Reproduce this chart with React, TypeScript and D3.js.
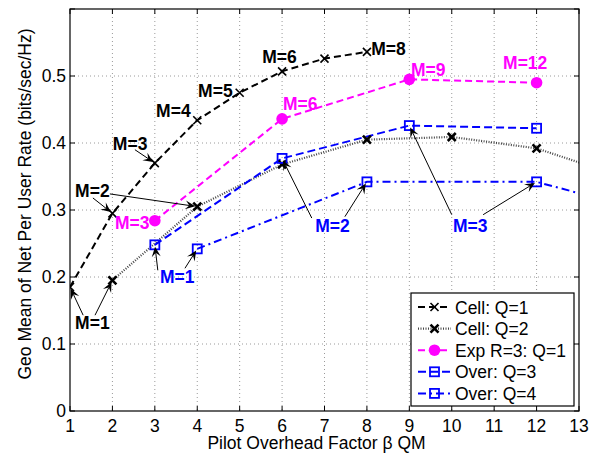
import React, { useEffect, useRef } from 'react';
import * as d3 from 'd3';

// Pilot overhead vs. geo-mean rate, MATLAB-style line plot with M= annotations.

const WIDTH = 601;
const HEIGHT = 458;
const LEFT = 70;
const RIGHT = 579;
const TOP = 9;
const BOTTOM = 411;
const FONT = '"Liberation Sans", Arial, Helvetica, sans-serif';

const xTicks = [1, 2, 3, 4, 5, 6, 7, 8, 9, 10, 11, 12, 13];
const yTicks = [0, 0.1, 0.2, 0.3, 0.4, 0.5, 0.6];
const yTickLabels = ['0', '0.1', '0.2', '0.3', '0.4', '0.5', ''];

const cellQ1X = [1, 2, 3, 4, 5, 6, 7, 8];
const cellQ1Y = [0.185, 0.295, 0.37, 0.434, 0.475, 0.507, 0.526, 0.536];
const cellQ2X = [2, 4, 6, 8, 10, 12, 14];
const cellQ2Y = [0.195, 0.305, 0.368, 0.405, 0.409, 0.392, 0.35];
const expX = [3, 6, 9, 12];
const expY = [0.284, 0.436, 0.495, 0.49];
const overQ3X = [3, 6, 9, 12];
const overQ3Y = [0.248, 0.377, 0.426, 0.422];
const overQ4X = [4, 8, 12, 16];
const overQ4Y = [0.242, 0.342, 0.342, 0.274];

const seriesNames = ['Cell: Q=1', 'Cell: Q=2', 'Exp R=3: Q=1', 'Over: Q=3', 'Over: Q=4'];

// annotation text: label, colour group, x and baseline y in data units
const labelTexts = ['M=1', 'M=2', 'M=3', 'M=4', 'M=5', 'M=6', 'M=8', 'M=3', 'M=6', 'M=9', 'M=12', 'M=1', 'M=2', 'M=3'];
const labelGroups = ['k', 'k', 'k', 'k', 'k', 'k', 'k', 'm', 'm', 'm', 'm', 'b', 'b', 'b'];
const labelX = [1.12, 1.12, 2.01, 3.03, 4.02, 5.53, 8.1, 2.06, 6.02, 9.04, 11.21, 3.12, 6.78, 10.03];
const labelY = [0.122, 0.319, 0.39, 0.439, 0.469, 0.519, 0.531, 0.272, 0.449, 0.5, 0.51, 0.191, 0.267, 0.267];

// arrows: tail in data units, head at a series point
const arrowTailX = [1.31, 1.59, 1.54, 1.94, 2.53, 3.07, 3.71, 6.7, 7.48, 10.0, 10.74];
const arrowTailY = [0.143, 0.143, 0.318, 0.324, 0.39, 0.21, 0.213, 0.288, 0.29, 0.293, 0.293];
const arrowSeries = [0, 1, 0, 1, 0, 3, 4, 3, 4, 3, 4];
const arrowPoint = [0, 0, 1, 1, 2, 0, 0, 1, 1, 2, 2];

const groupColor = { k: '#000000', m: '#ff00ff', b: '#0000ff' };

const App = () => {
  const svgRef = useRef<SVGSVGElement>(null);

  useEffect(() => {
    const svg = d3.select(svgRef.current).attr('width', WIDTH).attr('height', HEIGHT);
    svg.selectAll('*').remove();
    svg.append('rect').attr('width', WIDTH).attr('height', HEIGHT).attr('fill', 'white');

    const x = d3.scaleLinear().domain([1, 13]).range([LEFT, RIGHT]);
    const y = d3.scaleLinear().domain([0, 0.6]).range([BOTTOM, TOP]);

    const series = [
      { xs: cellQ1X, ys: cellQ1Y, color: '#000', mc: '#000', dash: '7,4', width: 2, marker: 'x', mw: 1.6 },
      { xs: cellQ2X, ys: cellQ2Y, color: '#444', mc: '#000', dash: '1,1.5', width: 2.2, marker: 'x', mw: 2.6 },
      { xs: expX, ys: expY, color: '#ff00ff', mc: '#ff00ff', dash: '7,4', width: 2, marker: 'o', mw: 1 },
      { xs: overQ3X, ys: overQ3Y, color: '#0000ff', mc: '#0000ff', dash: '8,4', width: 2, marker: 's', mw: 1.8 },
      { xs: overQ4X, ys: overQ4Y, color: '#0000ff', mc: '#0000ff', dash: '8,4,2,4', width: 2, marker: 's', mw: 1.8 },
    ];

    svg
      .append('defs')
      .append('clipPath')
      .attr('id', 'plot-clip')
      .append('rect')
      .attr('x', LEFT)
      .attr('y', TOP)
      .attr('width', RIGHT - LEFT)
      .attr('height', BOTTOM - TOP);

    // grid
    const grid = svg.append('g').attr('stroke', '#9a9a9a').attr('stroke-width', 1).attr('stroke-dasharray', '1,3');
    xTicks.slice(1, -1).forEach((t) => {
      grid.append('line').attr('x1', x(t)).attr('x2', x(t)).attr('y1', TOP).attr('y2', BOTTOM);
    });
    yTicks.slice(1, -1).forEach((t) => {
      grid.append('line').attr('x1', LEFT).attr('x2', RIGHT).attr('y1', y(t)).attr('y2', y(t));
    });

    const drawMarker = (g, kind, cx, cy, color, mw) => {
      if (kind === 'x') {
        g.append('path')
          .attr('d', `M${cx - 4},${cy - 4}L${cx + 4},${cy + 4}M${cx - 4},${cy + 4}L${cx + 4},${cy - 4}`)
          .attr('stroke', color)
          .attr('stroke-width', mw)
          .attr('fill', 'none');
      } else if (kind === 'o') {
        g.append('circle').attr('cx', cx).attr('cy', cy).attr('r', 5.8).attr('fill', color);
      } else {
        g.append('rect')
          .attr('x', cx - 4.5)
          .attr('y', cy - 4.5)
          .attr('width', 9)
          .attr('height', 9)
          .attr('fill', 'none')
          .attr('stroke', color)
          .attr('stroke-width', mw);
      }
    };

    const plot = svg.append('g').attr('clip-path', 'url(#plot-clip)');
    const line = d3.line<[number, number]>();
    series.forEach((s) => {
      const pts = s.xs.map((v, i) => [x(v), y(s.ys[i])] as [number, number]);
      plot
        .append('path')
        .attr('d', line(pts))
        .attr('fill', 'none')
        .attr('stroke', s.color)
        .attr('stroke-width', s.width)
        .attr('stroke-dasharray', s.dash);
    });
    series.forEach((s) => {
      s.xs.forEach((v, i) => drawMarker(plot, s.marker, x(v), y(s.ys[i]), s.mc, s.mw));
    });

    // arrows
    const arrows = svg.append('g');
    arrowTailX.forEach((tx, i) => {
      const s = series[arrowSeries[i]];
      const x0 = x(tx);
      const y0 = y(arrowTailY[i]);
      const px = x(s.xs[arrowPoint[i]]);
      const py = y(s.ys[arrowPoint[i]]);
      const dx = px - x0;
      const dy = py - y0;
      const len = Math.hypot(dx, dy);
      const ux = dx / len;
      const uy = dy / len;
      const hx = px - ux * 2;
      const hy = py - uy * 2;
      const nx = -uy;
      const ny = ux;
      const L = 10;
      const W = 4.5;
      arrows
        .append('line')
        .attr('x1', x0)
        .attr('y1', y0)
        .attr('x2', hx - ux * 6)
        .attr('y2', hy - uy * 6)
        .attr('stroke', '#000')
        .attr('stroke-width', 1);
      arrows
        .append('path')
        .attr(
          'd',
          `M${hx},${hy}L${hx - ux * L + nx * W},${hy - uy * L + ny * W}L${hx - ux * L * 0.6},${hy - uy * L * 0.6}L${hx - ux * L - nx * W},${hy - uy * L - ny * W}Z`,
        )
        .attr('fill', '#000');
    });

    // annotation labels
    svg
      .append('g')
      .selectAll('text')
      .data(labelTexts)
      .enter()
      .append('text')
      .attr('x', (_, i) => x(labelX[i]))
      .attr('y', (_, i) => y(labelY[i]))
      .attr('font-family', FONT)
      .attr('font-weight', 'bold')
      .attr('font-size', '17.5px')
      .attr('fill', (_, i) => groupColor[labelGroups[i]])
      .text((d) => d);

    // frame and ticks
    svg
      .append('rect')
      .attr('x', LEFT)
      .attr('y', TOP)
      .attr('width', RIGHT - LEFT)
      .attr('height', BOTTOM - TOP)
      .attr('fill', 'none')
      .attr('stroke', '#000')
      .attr('stroke-width', 1.2);
    const ticks = svg.append('g').attr('stroke', '#000').attr('stroke-width', 1);
    xTicks.forEach((t) => {
      ticks.append('line').attr('x1', x(t)).attr('x2', x(t)).attr('y1', BOTTOM).attr('y2', BOTTOM - 5);
      ticks.append('line').attr('x1', x(t)).attr('x2', x(t)).attr('y1', TOP).attr('y2', TOP + 5);
    });
    yTicks.forEach((t) => {
      ticks.append('line').attr('x1', LEFT).attr('x2', LEFT + 5).attr('y1', y(t)).attr('y2', y(t));
      ticks.append('line').attr('x1', RIGHT).attr('x2', RIGHT - 5).attr('y1', y(t)).attr('y2', y(t));
    });

    xTicks.forEach((t) => {
      svg
        .append('text')
        .attr('x', x(t))
        .attr('y', BOTTOM + 21)
        .attr('text-anchor', 'middle')
        .attr('font-family', FONT)
        .attr('font-size', '17.5px')
        .text(String(t));
    });
    yTicks.forEach((t, i) => {
      svg
        .append('text')
        .attr('x', LEFT - 4)
        .attr('y', y(t) + 6)
        .attr('text-anchor', 'end')
        .attr('font-family', FONT)
        .attr('font-size', '17.5px')
        .text(yTickLabels[i]);
    });

    svg
      .append('text')
      .attr('x', (LEFT + RIGHT) / 2 - 8)
      .attr('y', 449)
      .attr('text-anchor', 'middle')
      .attr('font-family', FONT)
      .attr('font-size', '17.5px')
      .text('Pilot Overhead Factor β QM');
    svg
      .append('text')
      .attr('transform', 'translate(31,204) rotate(-90)')
      .attr('text-anchor', 'middle')
      .attr('font-family', FONT)
      .attr('font-size', '17.5px')
      .text('Geo Mean of Net Per User Rate (bits/sec/Hz)');

    // legend
    const lg = svg.append('g');
    lg.append('rect')
      .attr('x', 411)
      .attr('y', 293)
      .attr('width', 163)
      .attr('height', 113)
      .attr('fill', 'white')
      .attr('stroke', '#000')
      .attr('stroke-width', 1.2);
    seriesNames.forEach((name, i) => {
      const s = series[i];
      const cy = 307 + i * 21.6;
      lg.append('line')
        .attr('x1', 418)
        .attr('x2', 451)
        .attr('y1', cy)
        .attr('y2', cy)
        .attr('stroke', s.color)
        .attr('stroke-width', s.width)
        .attr('stroke-dasharray', s.dash);
      drawMarker(lg, s.marker, 434.5, cy, s.mc, s.mw);
      lg.append('text')
        .attr('x', 455)
        .attr('y', cy + 6.5)
        .attr('font-family', FONT)
        .attr('font-size', '17.5px')
        .text(name);
    });
  }, []);

  return <svg ref={svgRef} style={{ position: 'absolute', left: 0, top: 0, display: 'block' }} />;
};

export default App;
